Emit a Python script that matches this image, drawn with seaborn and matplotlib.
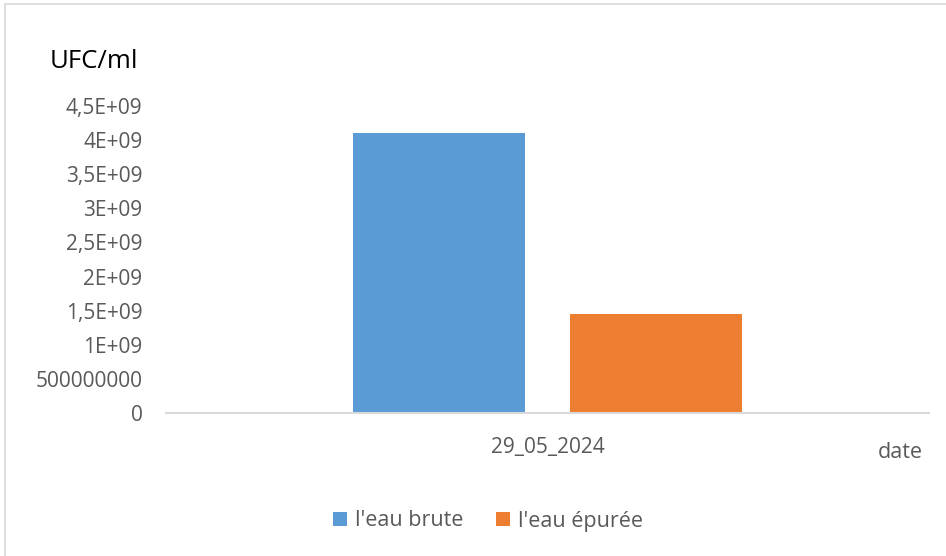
import matplotlib
matplotlib.use("Agg")
import matplotlib.pyplot as plt
from matplotlib.lines import Line2D
from matplotlib.patches import Patch
import seaborn as sns
import pandas as pd

# Data
categories = ["29_05_2024"]
series = ["l'eau brute", "l'eau épurée"]
values_brute = [4.1e9]
values_epuree = [1.45e9]
colors = ["#5B9BD5", "#ED7D31"]
ytick_values = [0, 0.5e9, 1e9, 1.5e9, 2e9, 2.5e9, 3e9, 3.5e9, 4e9, 4.5e9]
ytick_labels = ["0", "500000000", "1E+09", "1,5E+09", "2E+09", "2,5E+09",
                "3E+09", "3,5E+09", "4E+09", "4,5E+09"]

df = pd.DataFrame({
    "date": categories * 2,
    "serie": [series[0]] * len(categories) + [series[1]] * len(categories),
    "value": values_brute + values_epuree,
})

sns.set_theme(style="white")
plt.rcParams["font.family"] = ["Open Sans", "DejaVu Sans"]

W, H = 946, 556
fig = plt.figure(figsize=(W / 100, H / 100), dpi=100)
ax = fig.add_axes([166 / W, 1 - 413 / H, (929 - 166) / W, (413 - 106) / H])

sns.barplot(data=df, x="date", y="value", hue="serie", hue_order=series,
            palette=colors, width=0.571, gap=0.21, saturation=1,
            linewidth=0, ax=ax, legend=False)

ax.set_ylim(0, 4.5e9)
ax.set_xlim(-0.5, 0.5)
ax.set_yticks(ytick_values)
ax.set_yticklabels(ytick_labels)
ax.set_xlabel("")
ax.set_ylabel("")
for s in ["left", "right", "top"]:
    ax.spines[s].set_visible(False)
ax.spines["bottom"].set_color("#D9D9D9")
ax.spines["bottom"].set_linewidth(1.5)
ax.tick_params(axis="y", length=0, pad=17, labelsize=15, labelcolor="#595959")
ax.tick_params(axis="x", length=0, pad=17, labelsize=15, labelcolor="#595959")
ax.grid(False)

fig.text(50 / W, 1 - 62 / H, "UFC/ml", ha="left", va="center",
         fontsize=18.5, color="black")
fig.text(900 / W, 1 - 452 / H, "date", ha="center", va="center",
         fontsize=15.5, color="#595959")

handles = [Patch(facecolor=c, edgecolor="none") for c in colors]
fig.legend(handles, series, loc="center", bbox_to_anchor=(488 / W, 1 - 521 / H),
           ncol=2, frameon=False, fontsize=15.5, labelcolor="#595959",
           handlelength=0.65, handleheight=0.65, handletextpad=0.4,
           columnspacing=1.5)

# chart border (light gray)
fig.add_artist(Line2D([5 / W, 5 / W], [1 - 4 / H, 0], transform=fig.transFigure,
                      color="#D9D9D9", linewidth=1.2))
fig.add_artist(Line2D([5 / W, 1], [1 - 4 / H, 1 - 4 / H], transform=fig.transFigure,
                      color="#D9D9D9", linewidth=1.2))

fig.savefig("out.png", dpi=100, facecolor="white")
